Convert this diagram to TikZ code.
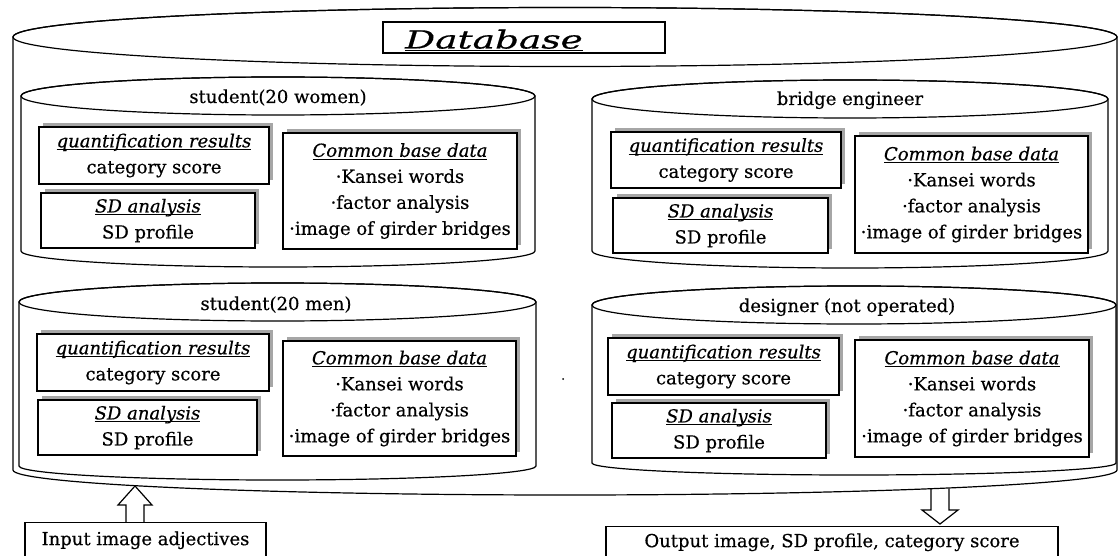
\documentclass[tikz,border=0pt]{standalone}
\usepackage{fontspec}
\setmainfont{DejaVu Serif}[FakeBold=0.45]
\usetikzlibrary{shadows,calc}

% italic heading with an underline at a fixed depth
\newsavebox\ulbox
\newcommand\hul[1]{\sbox\ulbox{\itshape #1}\rlap{\rule[-2.6pt]{\wd\ulbox}{0.8pt}}\usebox\ulbox}
\newcommand\panelfont{\fontsize{18}{26}\selectfont}

% drum (cylinder): left, right, top centre y, top radius, bottom centre y, bottom radius
% coordinates are given in points measured downwards from the top edge
\newcommand\drum[6]{%
  \pgfmathsetmacro\drcx{(#1+#2)/2}%
  \pgfmathsetmacro\drrx{(#2-#1)/2}%
  \filldraw[drumline,fill=white] (#1,-#3) -- (#1,-#5)
    arc[start angle=180,end angle=360,x radius=\drrx,y radius=#6]
    -- (#2,-#3)
    arc[start angle=0,end angle=180,x radius=\drrx,y radius=#4] -- cycle;
  \draw[drumline] (\drcx,-#3) ellipse[x radius=\drrx,y radius=#4];
}

\tikzset{
  drumline/.style={line width=1.2pt,black},
  panel/.style={draw,line width=1.5pt,fill=white,align=center,inner sep=0pt,
    font=\panelfont,
    general shadow={fill=black!35,shadow xshift=4pt,shadow yshift=4pt}},
  drumlabel/.style={font=\panelfont,inner sep=0pt,anchor=base},
  iobox/.style={draw,line width=1.3pt,fill=white,font=\panelfont,anchor=north,
    text height=13pt,text depth=4pt,inner xsep=0pt},
  blockarrow/.style={line width=1.2pt,line join=miter}
}

\begin{document}
\begin{tikzpicture}[x=1pt,y=1pt]
\useasboundingbox (0,0) rectangle (1118,-556);

% outer database drum
\drum{13}{1117}{37}{29.5}{470}{25}
\node[draw,line width=1.3pt,minimum width=282,minimum height=31,inner sep=0pt]
  (dbbox) at (524,-37.5) {};
\node[inner sep=0pt,anchor=base] (dbtitle) at (494,-48.5)
  {\scalebox{1.5}[1]{\fontsize{25}{28}\selectfont\hul{Database}}};

% four user groups
\drum{21}{535}{96}{19}{251}{16}
\drum{592}{1108}{99}{19}{251}{17}
\drum{19}{536}{302}{19}{466}{14}
\drum{592}{1116}{305}{19}{463}{12}

\node[drumlabel] (lw) at (278,-103) {student(20 women)};
\node[drumlabel] (lb) at (850,-105) {bridge engineer};
\node[drumlabel] (lm) at (276,-310) {student(20 men)};
\node[drumlabel] (ld) at (847,-312) {designer (not operated)};

% student (20 women)
\node[panel,minimum width=230,minimum height=57] (qW) at (154,-155.5)
  {\hul{quantification results}\\category score};
\node[panel,minimum width=214,minimum height=55] (sW) at (148,-220.5)
  {\hul{SD analysis}\\SD profile};
\node[panel,minimum width=234,minimum height=116] (cW) at (400,-191)
  {\hul{Common base data}\\·Kansei words\\·factor analysis\\·image of girder bridges};

% bridge engineer
\node[panel,minimum width=230,minimum height=56] (qB) at (726,-160)
  {\hul{quantification results}\\category score};
\node[panel,minimum width=215,minimum height=55] (sB) at (720.5,-225.5)
  {\hul{SD analysis}\\SD profile};
\node[panel,minimum width=233,minimum height=117] (cB) at (971.5,-194.5)
  {\hul{Common base data}\\·Kansei words\\·factor analysis\\·image of girder bridges};

% student (20 men)
\node[panel,minimum width=232,minimum height=57] (qM) at (153,-362.5)
  {\hul{quantification results}\\category score};
\node[panel,minimum width=219,minimum height=55] (sM) at (147.5,-427.5)
  {\hul{SD analysis}\\SD profile};
\node[panel,minimum width=233,minimum height=115] (cM) at (399.5,-398.5)
  {\hul{Common base data}\\·Kansei words\\·factor analysis\\·image of girder bridges};

% designer
\node[panel,minimum width=231,minimum height=57] (qD) at (723.5,-366.5)
  {\hul{quantification results}\\category score};
\node[panel,minimum width=214,minimum height=55] (sD) at (719,-430.5)
  {\hul{SD analysis}\\SD profile};
\node[panel,minimum width=234,minimum height=117] (cD) at (972,-398.5)
  {\hul{Common base data}\\·Kansei words\\·factor analysis\\·image of girder bridges};

\fill (563,-379) circle (1);

% input and output
\node[iobox,minimum width=241,inner ysep=9.5pt] (inp) at (145.5,-522) {Input image adjectives};
\node[iobox,minimum width=452,inner ysep=7.5pt] (out) at (832,-526) {Output image, SD profile, category score};

\coordinate (dbin) at (135,-486);
\coordinate (dbout) at (940,-488.5);

\draw[blockarrow] ($(dbin |- inp.north)+(-9,0)$) -- ++(0,17) -- ++(-8,0)
  -- (dbin) -- ++(17,-19) -- ++(-8,0) -- ++(0,-17);
\draw[blockarrow] ($(dbout)+(-9,0)$) -- ++(0,-21.5) -- ++(-9,0)
  -- ($(dbout |- out.north)+(0,2)$) -- ++(18,14) -- ++(-9,0) -- ++(0,21.5);
\end{tikzpicture}
\end{document}
